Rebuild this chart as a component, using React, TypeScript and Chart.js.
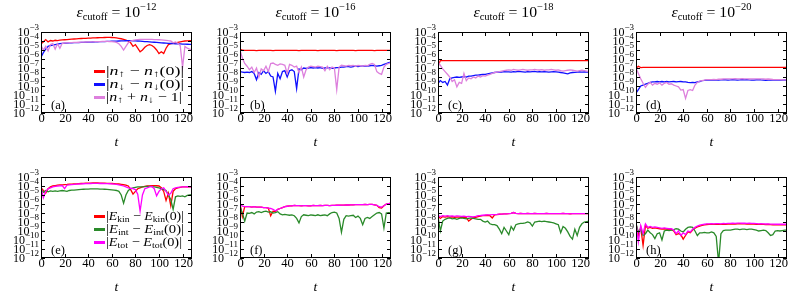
import React, { useEffect, useRef } from 'react';
import { Chart, registerables } from 'chart.js';
Chart.register(...registerables);

// time grid (t)
const T = [0, 2, 4, 6, 8, 10, 12, 14, 16, 18, 20, 22, 24, 26, 28, 30, 32, 34, 36, 38, 40, 42, 44, 46, 48, 50, 52, 54, 56, 58, 60, 62, 64, 66, 68, 70, 72, 74, 76, 78, 80, 82, 84, 86, 88, 90, 92, 94, 96, 98, 100, 102, 104, 106, 108, 110, 112, 114, 116, 118, 120, 122, 124, 126, 128];
const X_TICKS = [0, 20, 40, 60, 80, 100, 120];
const Y_EXPONENTS = [-3, -4, -5, -6, -7, -8, -9, -10, -11, -12];
const CUTOFF_EXPONENTS = ['−12', '−16', '−18', '−20'];
const PANEL_LABELS = ['(a)', '(b)', '(c)', '(d)', '(e)', '(f)', '(g)', '(h)'];

// values stored as log10 of the plotted quantity
// (a) eps=1e-12
const aUp = [-4.3, -4.1, -3.85, -4.1, -3.95, -4.0, -3.92, -3.95, -3.9, -3.88,
  -3.86, -3.84, -3.82, -3.8, -3.78, -3.76, -3.74, -3.72, -3.71, -3.7,
  -3.68, -3.67, -3.66, -3.65, -3.64, -3.63, -3.62, -3.61, -3.6, -3.6,
  -3.61, -3.63, -3.66, -3.7, -3.75, -3.82, -3.9, -4.0, -4.2, -4.6,
  -4.4, -4.8, -5.2, -5.0, -4.7, -4.5, -4.4, -4.5, -4.7, -5.0,
  -5.4, -5.2, -5.4, -4.8, -4.4, -4.3, -4.25, -4.2, -4.15, -4.1,
  -4.05, -4.0, -3.98, -3.97, -3.96];
const aDn = [-5.8, -5.3, -4.9, -4.6, -4.5, -4.45, -4.4, -4.35, -4.3, -4.27,
  -4.25, -4.23, -4.21, -4.2, -4.19, -4.18, -4.17, -4.16, -4.15, -4.14,
  -4.13, -4.12, -4.11, -4.1, -4.09, -4.08, -4.07, -4.06, -4.05, -4.04,
  -4.03, -4.02, -4.01, -4.0, -3.99, -3.98, -3.97, -3.96, -3.96, -3.97,
  -3.98, -4.0, -4.02, -4.04, -4.06, -4.08, -4.1, -4.12, -4.14, -4.16,
  -4.18, -4.2, -4.22, -4.24, -4.26, -4.28, -4.3, -4.31, -4.32, -4.33,
  -4.34, -4.35, -4.36, -4.37, -4.38];
const aSum = [-4.5, -5.0, -4.6, -5.1, -4.4, -4.3, -4.9, -4.3, -4.8, -4.25,
  -4.22, -4.2, -4.18, -4.17, -4.16, -4.15, -4.14, -4.13, -4.12, -4.11,
  -4.1, -4.1, -4.09, -4.08, -4.07, -4.06, -4.05, -4.05, -4.05, -4.06,
  -4.08, -4.1, -4.15, -4.3, -4.6, -5.0, -4.6, -4.2, -4.0, -3.92,
  -3.88, -3.85, -3.83, -3.82, -3.82, -3.82, -3.82, -3.83, -3.84, -3.85,
  -3.86, -3.88, -3.9, -3.93, -3.97, -4.0, -4.2, -4.1, -4.25, -4.5,
  -6.9, -4.6, -4.8, -4.9, -4.95];
// (b) eps=1e-16
const bUp = [-4.9, -5.03, -5.05, -5.05, -5.04, -5.05, -5.05, -5.06, -5.05, -5.05,
  -5.05, -5.04, -5.05, -5.05, -5.06, -5.05, -5.05, -5.04, -5.05, -5.05,
  -5.05, -5.05, -5.04, -5.05, -5.05, -5.06, -5.05, -5.05, -5.05, -5.04,
  -5.05, -5.05, -5.05, -5.06, -5.05, -5.05, -5.04, -5.05, -5.05, -5.05,
  -5.05, -5.06, -5.05, -5.05, -5.04, -5.05, -5.05, -5.05, -5.05, -5.06,
  -5.05, -5.05, -5.04, -5.05, -5.05, -5.05, -5.05, -5.06, -5.05, -5.05,
  -5.04, -5.05, -5.05, -5.05, -5.05];
const bDn = [-7.4, -7.45, -7.5, -7.45, -7.5, -7.4, -7.6, -8.3, -7.5, -7.7,
  -7.3, -7.6, -7.4, -7.9, -8.0, -9.6, -7.6, -8.2, -7.4, -7.3,
  -8.0, -7.3, -7.2, -7.4, -9.3, -7.1, -7.2, -7.0, -7.05, -7.0,
  -6.95, -7.0, -6.95, -7.0, -6.95, -7.05, -7.0, -6.95, -7.0, -7.05,
  -7.0, -6.95, -6.95, -6.9, -6.9, -6.85, -6.85, -6.9, -6.85, -6.8,
  -6.85, -6.8, -6.8, -6.75, -6.8, -6.75, -6.7, -6.75, -6.8, -6.75,
  -6.7, -6.6, -6.5, -6.4, -6.35];
const bSum = [-5.0, -5.9, -6.5, -6.8, -7.2, -6.9, -7.5, -7.0, -8.0, -7.1,
  -7.3, -6.8, -7.4, -6.5, -6.45, -6.6, -6.7, -6.55, -6.6, -6.7,
  -7.6, -6.6, -6.7, -6.9, -6.8, -7.5, -6.9, -8.0, -7.2, -6.9,
  -6.8, -6.85, -6.9, -6.8, -6.85, -6.9, -7.3, -6.8, -7.2, -6.9,
  -7.0, -9.4, -6.9, -6.7, -6.75, -6.8, -6.7, -6.75, -6.7, -6.8,
  -6.7, -6.75, -6.8, -6.7, -6.75, -6.6, -6.5, -6.6, -7.4, -7.6,
  -7.7, -6.9, -6.6, -6.5, -6.4];
// (c) eps=1e-18
const cUp = [-6.85, -6.15, -6.17, -6.18, -6.18, -6.19, -6.18, -6.18, -6.17, -6.18,
  -6.18, -6.19, -6.18, -6.18, -6.18, -6.17, -6.18, -6.18, -6.19, -6.18,
  -6.18, -6.18, -6.17, -6.18, -6.18, -6.18, -6.19, -6.18, -6.18, -6.18,
  -6.17, -6.18, -6.18, -6.18, -6.19, -6.18, -6.18, -6.18, -6.17, -6.18,
  -6.18, -6.18, -6.19, -6.18, -6.18, -6.18, -6.17, -6.18, -6.18, -6.18,
  -6.19, -6.18, -6.18, -6.18, -6.17, -6.18, -6.18, -6.18, -6.19, -6.18,
  -6.18, -6.18, -6.17, -6.18, -6.18];
const cDn = [-8.7, -8.4, -8.6, -8.5, -8.9, -8.2, -8.1, -8.05, -8.0, -8.05,
  -8.0, -7.95, -8.0, -7.9, -7.9, -7.85, -7.8, -7.8, -7.75, -7.7,
  -7.7, -7.65, -7.6, -7.55, -7.5, -7.45, -7.42, -7.45, -7.4, -7.43,
  -7.42, -7.45, -7.4, -7.42, -7.38, -7.4, -7.42, -7.45, -7.4, -7.42,
  -7.4, -7.38, -7.42, -7.4, -7.43, -7.4, -7.42, -7.45, -7.42, -7.4,
  -7.42, -7.45, -7.5, -7.55, -7.6, -7.65, -7.55, -7.5, -7.48, -7.45,
  -7.43, -7.45, -7.42, -7.45, -7.45];
const cSum = [-6.3, -6.7, -7.1, -7.4, -7.7, -8.0, -8.5, -8.3, -9.1, -8.6,
  -8.7, -7.6, -8.4, -8.1, -8.2, -8.0, -8.1, -7.9, -8.0, -7.85,
  -7.9, -7.8, -7.7, -7.6, -7.5, -7.45, -7.4, -7.35, -7.3, -7.25,
  -7.2, -7.25, -7.15, -7.2, -7.25, -7.2, -7.15, -7.2, -7.25, -7.2,
  -7.2, -7.15, -7.2, -7.22, -7.18, -7.25, -7.2, -7.2, -7.15, -7.2,
  -7.25, -7.2, -7.3, -7.35, -7.3, -7.25, -7.2, -7.25, -7.3, -7.35,
  -7.3, -7.25, -7.3, -7.35, -7.4];
// (d) eps=1e-20
const dUp = [-7.04, -6.8, -6.95, -6.93, -6.93, -6.94, -6.93, -6.93, -6.92, -6.93,
  -6.93, -6.93, -6.94, -6.93, -6.93, -6.93, -6.92, -6.93, -6.93, -6.93,
  -6.94, -6.93, -6.93, -6.93, -6.92, -6.93, -6.93, -6.93, -6.94, -6.93,
  -6.93, -6.93, -6.92, -6.93, -6.93, -6.93, -6.94, -6.93, -6.93, -6.93,
  -6.92, -6.93, -6.93, -6.93, -6.94, -6.93, -6.93, -6.93, -6.92, -6.93,
  -6.93, -6.93, -6.94, -6.93, -6.93, -6.93, -6.92, -6.93, -6.93, -6.93,
  -6.94, -6.93, -6.93, -6.93, -6.93];
const dDn = [-9.8, -9.4, -9.0, -8.9, -8.8, -8.7, -8.6, -8.55, -8.55, -8.5,
  -8.55, -8.5, -8.55, -8.5, -8.55, -8.52, -8.5, -8.55, -8.52, -8.5,
  -8.55, -8.55, -8.6, -8.62, -8.6, -8.63, -8.55, -8.5, -8.4, -8.38,
  -8.35, -8.35, -8.33, -8.35, -8.32, -8.35, -8.33, -8.3, -8.32, -8.35,
  -8.33, -8.3, -8.32, -8.35, -8.33, -8.3, -8.32, -8.3, -8.33, -8.35,
  -8.35, -8.32, -8.3, -8.33, -8.35, -8.38, -8.35, -8.33, -8.35, -8.35,
  -8.33, -8.35, -8.35, -8.33, -8.35];
const dSum = [-7.0, -7.6, -8.2, -8.7, -9.15, -8.8, -8.6, -8.9, -8.7, -8.8,
  -8.65, -8.9, -8.7, -8.6, -8.8, -8.75, -8.9, -9.0, -9.1, -9.45,
  -9.4, -10.37, -9.5, -9.4, -9.5, -8.9, -8.6, -8.45, -8.4, -8.35,
  -8.3, -8.3, -8.3, -8.28, -8.3, -8.25, -8.25, -8.22, -8.2, -8.2,
  -8.2, -8.2, -8.18, -8.2, -8.2, -8.18, -8.2, -8.2, -8.22, -8.2,
  -8.2, -8.2, -8.22, -8.2, -8.2, -8.25, -8.22, -8.25, -8.28, -8.3,
  -8.3, -8.3, -8.32, -8.33, -8.33];
// (e) eps=1e-12
const eKin = [-4.2, -4.5, -4.8, -4.3, -4.1, -4.0, -3.95, -3.9, -3.88, -3.87,
  -3.85, -3.83, -3.8, -3.8, -3.78, -3.76, -3.74, -3.72, -3.7, -3.69,
  -3.68, -3.67, -3.66, -3.66, -3.66, -3.67, -3.68, -3.69, -3.7, -3.71,
  -3.72, -3.74, -3.76, -3.78, -3.82, -3.86, -3.9, -4.0, -4.4, -4.9,
  -4.6, -4.3, -4.2, -4.1, -4.05, -4.0, -3.98, -3.95, -3.95, -3.97,
  -4.0, -4.2, -4.6, -5.6, -4.8, -6.2, -4.6, -4.3, -4.2, -4.15,
  -4.1, -4.1, -4.08, -4.1, -4.1];
const eInt = [-4.4, -4.7, -4.5, -4.65, -4.55, -4.6, -4.55, -4.6, -4.55, -4.5,
  -4.55, -4.6, -4.5, -4.45, -4.45, -4.42, -4.4, -4.38, -4.36, -4.35,
  -4.34, -4.33, -4.32, -4.32, -4.33, -4.34, -4.35, -4.36, -4.38, -4.4,
  -4.42, -4.45, -4.5, -4.6, -5.0, -5.9, -5.0, -4.5, -4.3, -4.2,
  -4.15, -4.1, -4.1, -4.1, -4.08, -4.05, -4.05, -4.08, -4.1, -4.15,
  -4.2, -4.3, -4.4, -4.5, -5.0, -5.5, -6.6, -5.2, -5.1, -5.15,
  -5.1, -5.2, -5.05, -5.0, -4.95];
const eTot = [-4.2, -5.3, -4.6, -4.3, -4.2, -4.1, -4.05, -4.0, -3.98, -3.95,
  -4.3, -3.9, -3.88, -3.85, -3.83, -3.8, -3.78, -3.76, -3.75, -3.74,
  -3.73, -3.72, -3.71, -3.71, -3.71, -3.72, -3.72, -3.73, -3.74, -3.75,
  -3.77, -3.8, -3.83, -3.87, -3.92, -4.0, -4.1, -4.2, -4.25, -4.3,
  -4.4, -4.9, -6.8, -5.0, -4.3, -4.2, -4.1, -4.05, -4.3, -5.1,
  -4.6, -4.3, -4.2, -4.6, -5.0, -4.8, -4.3, -4.2, -4.15, -4.12,
  -4.1, -4.1, -4.08, -4.1, -4.1];
// (f) eps=1e-16
const fKin = [-5.95, -7.4, -6.3, -6.3, -6.3, -6.35, -6.3, -6.35, -6.35, -6.35,
  -6.4, -6.4, -6.45, -7.3, -6.8, -6.85, -6.6, -6.5, -6.4, -6.3,
  -6.25, -6.2, -6.2, -6.15, -6.17, -6.18, -6.2, -6.18, -6.17, -6.2,
  -6.2, -6.15, -6.17, -6.18, -6.15, -6.17, -6.16, -6.15, -6.17, -6.15,
  -6.15, -6.13, -6.14, -6.12, -6.12, -6.1, -6.11, -6.1, -6.09, -6.08,
  -6.07, -6.06, -6.06, -6.05, -6.06, -6.05, -6.05, -6.1, -6.15, -6.4,
  -6.45, -6.2, -6.0, -5.95, -5.9];
const fInt = [-6.3, -7.0, -7.9, -7.0, -7.05, -6.95, -7.1, -6.9, -6.85, -6.95,
  -6.85, -6.8, -6.9, -6.85, -7.0, -6.95, -6.85, -7.1, -7.2, -7.15,
  -7.2, -7.25, -7.2, -7.3, -7.6, -8.1, -7.4, -7.2, -7.25, -7.3,
  -7.2, -7.25, -7.3, -7.2, -7.3, -7.25, -7.2, -7.3, -7.1, -6.95,
  -6.9, -7.0, -7.6, -9.15, -7.7, -7.3, -7.35, -7.3, -7.25, -7.5,
  -7.35, -7.6, -8.3, -7.6, -7.5, -7.6, -7.4, -7.2, -7.0, -6.95,
  -7.1, -8.67, -7.0, -6.95, -7.0];
const fTot = [-5.95, -6.25, -6.3, -6.3, -6.3, -6.35, -6.3, -6.35, -6.35, -6.35,
  -6.4, -6.4, -6.45, -6.5, -6.6, -6.75, -6.6, -6.5, -6.4, -6.3,
  -6.25, -6.2, -6.2, -6.15, -6.17, -6.18, -6.2, -6.18, -6.17, -6.2,
  -6.2, -6.15, -6.17, -6.18, -6.15, -6.17, -6.16, -6.15, -6.17, -6.15,
  -6.15, -6.13, -6.14, -6.12, -6.12, -6.1, -6.11, -6.1, -6.09, -6.08,
  -6.07, -6.06, -6.06, -6.05, -6.06, -6.05, -6.05, -6.1, -6.15, -6.3,
  -6.35, -6.2, -6.0, -5.95, -5.9];
// (g) eps=1e-18
const gKin = [-7.35, -7.6, -7.4, -7.45, -7.4, -7.45, -7.42, -7.48, -7.45, -7.45,
  -7.5, -7.45, -7.5, -7.9, -7.7, -7.5, -7.48, -7.4, -7.35, -7.3,
  -7.28, -7.25, -7.3, -7.55, -7.2, -7.17, -7.14, -7.12, -7.1, -7.1,
  -7.08, -7.05, -6.95, -7.05, -7.07, -7.05, -7.08, -7.07, -7.05, -7.07,
  -7.07, -7.05, -7.07, -7.08, -7.06, -7.07, -7.05, -7.08, -7.07, -7.06,
  -7.07, -7.08, -7.06, -7.05, -7.07, -7.08, -7.1, -7.08, -7.07, -7.06,
  -7.07, -7.08, -7.06, -7.07, -7.07];
const gInt = [-7.4, -9.0, -7.9, -7.7, -7.6, -7.55, -7.65, -7.6, -7.7, -7.6,
  -7.55, -7.6, -7.65, -7.6, -7.55, -7.6, -7.65, -7.7, -7.7, -7.9,
  -8.0, -7.9, -8.2, -8.3, -8.3, -8.4, -8.8, -9.3, -8.6, -9.0,
  -9.4, -8.5, -8.9, -8.3, -8.2, -8.15, -8.15, -8.1, -8.0, -8.1,
  -8.45, -8.0, -7.95, -7.9, -7.95, -7.9, -7.95, -8.0, -8.05, -8.1,
  -8.2, -8.3, -9.2, -8.5, -8.7, -9.1, -9.6, -9.9, -8.8, -9.5,
  -8.6, -8.2, -8.0, -7.95, -7.9];
const gTot = [-7.3, -7.4, -7.3, -7.35, -7.3, -7.35, -7.32, -7.38, -7.33, -7.35,
  -7.38, -7.35, -7.4, -7.38, -7.4, -7.42, -7.38, -7.3, -7.28, -7.25,
  -7.22, -7.2, -7.2, -7.18, -7.17, -7.15, -7.12, -7.12, -7.1, -7.1,
  -7.08, -7.05, -6.95, -7.05, -7.07, -7.05, -7.08, -7.07, -7.05, -7.07,
  -7.07, -7.05, -7.07, -7.08, -7.06, -7.07, -7.05, -7.08, -7.07, -7.06,
  -7.07, -7.08, -7.06, -7.05, -7.07, -7.08, -7.1, -7.08, -7.07, -7.06,
  -7.07, -7.08, -7.06, -7.07, -7.07];
// (h) eps=1e-20
const hKin = [-8.2, -9.5, -8.6, -10.6, -8.4, -8.7, -8.6, -8.7, -8.65, -8.7,
  -8.75, -8.8, -8.75, -8.8, -8.85, -8.85, -9.0, -9.4, -9.3, -9.4,
  -9.9, -9.5, -9.1, -9.2, -8.9, -8.7, -8.55, -8.45, -8.38, -8.32,
  -8.28, -8.27, -8.25, -8.27, -8.25, -8.26, -8.27, -8.24, -8.25, -8.23,
  -8.22, -8.21, -8.22, -8.2, -8.19, -8.21, -8.2, -8.22, -8.21, -8.22,
  -8.23, -8.25, -8.27, -8.26, -8.27, -8.29, -8.27, -8.3, -8.31, -8.32,
  -8.31, -8.32, -8.3, -8.32, -8.32];
const hInt = [-8.2, -9.1, -8.8, -9.5, -9.3, -8.9, -9.2, -9.4, -9.85, -9.3,
  -9.2, -10.0, -9.0, -8.9, -8.95, -8.9, -8.85, -8.75, -8.8, -9.0,
  -9.1, -8.8, -8.6, -8.55, -8.6, -9.0, -9.5, -9.2, -9.2, -9.15,
  -9.2, -9.2, -9.1, -9.2, -9.6, -12.5, -9.3, -8.95, -8.9, -8.9,
  -8.9, -8.85, -8.8, -8.8, -8.85, -8.8, -8.8, -8.85, -8.8, -8.8,
  -8.85, -8.9, -9.0, -8.95, -8.9, -8.95, -9.2, -9.5, -9.4, -9.0,
  -8.95, -9.0, -8.95, -8.9, -8.9];
const hTot = [-8.0, -10.2, -8.4, -9.3, -8.2, -8.6, -8.5, -8.6, -8.55, -8.6,
  -8.65, -8.7, -8.65, -8.7, -8.75, -8.75, -8.9, -9.3, -9.0, -9.5,
  -9.2, -9.4, -9.0, -9.1, -8.8, -8.6, -8.45, -8.35, -8.3, -8.25,
  -8.2, -8.2, -8.18, -8.2, -8.17, -8.18, -8.2, -8.16, -8.17, -8.15,
  -8.15, -8.14, -8.15, -8.13, -8.12, -8.14, -8.13, -8.15, -8.14, -8.15,
  -8.16, -8.18, -8.2, -8.19, -8.2, -8.22, -8.2, -8.23, -8.24, -8.25,
  -8.24, -8.25, -8.23, -8.25, -8.25];

const SERIES = [
  [aUp, aDn, aSum], [bUp, bDn, bSum], [cUp, cDn, cSum], [dUp, dDn, dSum],
  [eKin, eInt, eTot], [fKin, fInt, fTot], [gKin, gInt, gTot], [hKin, hInt, hTot],
];

const TOP_COLORS = ['#ff0000', '#1010ff', '#dd80dd'];
const BOTTOM_COLORS = ['#ff0000', '#2a8a2a', '#ff00ff'];

const FONT = '"Liberation Serif", "DejaVu Serif", serif';
type Seg = { t: string; size: number; it?: boolean; dy?: number };

const TOP_LEGEND: Seg[][] = [
  [{ t: '|', size: 13 }, { t: 'n', size: 13, it: true }, { t: '↑', size: 9.5, dy: 3 }, { t: ' − ', size: 13 }, { t: 'n', size: 13, it: true }, { t: '↑', size: 9.5, dy: 3 }, { t: '(0)|', size: 13 }],
  [{ t: '|', size: 13 }, { t: 'n', size: 13, it: true }, { t: '↓', size: 9.5, dy: 3 }, { t: ' − ', size: 13 }, { t: 'n', size: 13, it: true }, { t: '↓', size: 9.5, dy: 3 }, { t: '(0)|', size: 13 }],
  [{ t: '|', size: 13 }, { t: 'n', size: 13, it: true }, { t: '↑', size: 9.5, dy: 3 }, { t: ' + ', size: 13 }, { t: 'n', size: 13, it: true }, { t: '↓', size: 9.5, dy: 3 }, { t: ' − 1|', size: 13 }],
];
const BOTTOM_LEGEND: Seg[][] = [
  [{ t: '|', size: 13 }, { t: 'E', size: 13, it: true }, { t: 'kin', size: 9, dy: 3 }, { t: ' − ', size: 13 }, { t: 'E', size: 13, it: true }, { t: 'kin', size: 9, dy: 3 }, { t: '(0)|', size: 13 }],
  [{ t: '|', size: 13 }, { t: 'E', size: 13, it: true }, { t: 'int', size: 9, dy: 3 }, { t: ' − ', size: 13 }, { t: 'E', size: 13, it: true }, { t: 'int', size: 9, dy: 3 }, { t: '(0)|', size: 13 }],
  [{ t: '|', size: 13 }, { t: 'E', size: 13, it: true }, { t: 'tot', size: 9, dy: 3 }, { t: ' − ', size: 13 }, { t: 'E', size: 13, it: true }, { t: 'tot', size: 9, dy: 3 }, { t: '(0)|', size: 13 }],
];
const LEGEND_TEXT_W = [78, 78, 76];

const CANVAS_W = 196;
const CANVAS_H = 150;
const COL_LEFT = [0, 199, 397, 595];
const ROW_TOP = [0, 145];
const PAD = { left: 41, right: 4, top: 32, bottom: 37 };

function setFont(ctx: CanvasRenderingContext2D, s: Seg) {
  ctx.font = `${s.it ? 'italic ' : ''}${s.size}px ${FONT}`;
}
function richWidth(ctx: CanvasRenderingContext2D, segs: Seg[]) {
  let w = 0;
  for (const s of segs) { setFont(ctx, s); w += ctx.measureText(s.t).width; }
  return w;
}
function drawRich(ctx: CanvasRenderingContext2D, segs: Seg[], x: number, y: number, align: 'left' | 'right' | 'center', targetW?: number) {
  const natural = richWidth(ctx, segs);
  const sx = targetW ? targetW / natural : 1;
  const w = natural * sx;
  const x0 = align === 'left' ? x : align === 'right' ? x - w : x - w / 2;
  ctx.save();
  ctx.translate(x0, y);
  ctx.scale(sx, 1);
  ctx.textAlign = 'left';
  ctx.textBaseline = 'middle';
  let cx = 0;
  for (const s of segs) {
    setFont(ctx, s);
    ctx.fillText(s.t, cx, s.dy || 0);
    cx += ctx.measureText(s.t).width;
  }
  ctx.restore();
}

function makeDecor(idx: number) {
  const row = Math.floor(idx / 4);
  const col = idx % 4;
  return {
    id: 'decor' + idx,
    afterDraw(chart: any) {
      const ctx: CanvasRenderingContext2D = chart.ctx;
      const a = chart.chartArea;
      const xs = chart.scales.x;
      const ys = chart.scales.y;
      ctx.save();
      ctx.fillStyle = '#000';
      ctx.strokeStyle = '#000';
      ctx.lineWidth = 1;
      // frame
      ctx.strokeRect(a.left + 0.5, a.top + 0.5, a.right - a.left - 1, a.bottom - a.top - 1);
      // y ticks + labels
      for (const e of Y_EXPONENTS) {
        const py = Math.round(ys.getPixelForValue(Math.pow(10, e))) + 0.5;
        ctx.beginPath();
        ctx.moveTo(a.left, py); ctx.lineTo(a.left + 4, py);
        ctx.moveTo(a.right, py); ctx.lineTo(a.right - 4, py);
        ctx.stroke();
        drawRich(ctx, [{ t: '10', size: 12 }, { t: '−' + String(-e), size: 9, dy: -4.5 }], a.left - 2, py, 'right');
      }
      // x ticks + labels
      for (const v of X_TICKS) {
        const px = Math.round(xs.getPixelForValue(v)) + 0.5;
        ctx.beginPath();
        ctx.moveTo(px, a.bottom); ctx.lineTo(px, a.bottom - 4);
        ctx.moveTo(px, a.top); ctx.lineTo(px, a.top + 4);
        ctx.stroke();
        drawRich(ctx, [{ t: String(v), size: 12.5 }], px, a.bottom + 6, 'center');
      }
      const cxm = (a.left + a.right) / 2;
      drawRich(ctx, [{ t: 't', size: 13.5, it: true }], cxm, a.bottom + 29, 'center');
      // panel label
      drawRich(ctx, [{ t: PANEL_LABELS[idx], size: 12.5 }], a.left + 10, a.bottom - 7, 'left');
      // title
      if (row === 0) {
        drawRich(ctx, [
          { t: 'ε', size: 15, it: true },
          { t: 'cutoff', size: 10, dy: 4 },
          { t: ' = 10', size: 15 },
          { t: CUTOFF_EXPONENTS[col], size: 10, dy: -6 },
        ], cxm, a.top - 19, 'center', 80);
      }
      // legend
      if (col === 0) {
        const items = row === 0 ? TOP_LEGEND : BOTTOM_LEGEND;
        const colors = row === 0 ? TOP_COLORS : BOTTOM_COLORS;
        const offs = [39.5, 52.5, 65.5];
        items.forEach((segs, k) => {
          const y = a.top + offs[k];
          ctx.strokeStyle = colors[k];
          ctx.lineWidth = 3;
          ctx.beginPath();
          ctx.moveTo(a.left + 53, y); ctx.lineTo(a.left + 64, y);
          ctx.stroke();
          ctx.fillStyle = '#000';
          drawRich(ctx, segs, a.left + 65, y, 'left', LEGEND_TEXT_W[k]);
        });
      }
      ctx.restore();
    },
  };
}

function Panel({ idx }: { idx: number }) {
  const ref = useRef<HTMLCanvasElement>(null);
  useEffect(() => {
    const row = Math.floor(idx / 4);
    const colors = row === 0 ? TOP_COLORS : BOTTOM_COLORS;
    const datasets = SERIES[idx].map((s, k) => ({
      data: T.map((t, i) => ({ x: t, y: Math.pow(10, s[i]) })),
      borderColor: colors[k],
      borderWidth: 1.3,
      pointRadius: 0,
      tension: 0,
      fill: false,
    })).reverse();
    const chart = new Chart(ref.current as HTMLCanvasElement, {
      type: 'line',
      data: { datasets },
      options: {
        responsive: false,
        animation: false,
        events: [],
        layout: { padding: PAD },
        scales: {
          x: { type: 'linear', min: 0, max: 128, display: false },
          y: { type: 'logarithmic', min: 1e-12, max: 1e-3, display: false },
        },
        plugins: { legend: { display: false }, tooltip: { enabled: false }, title: { display: false } },
      } as any,
      plugins: [makeDecor(idx)],
    });
    return () => chart.destroy();
  }, [idx]);
  const row = Math.floor(idx / 4);
  const col = idx % 4;
  return (
    <canvas
      ref={ref}
      width={CANVAS_W}
      height={CANVAS_H}
      style={{ position: 'absolute', left: COL_LEFT[col], top: ROW_TOP[row], width: CANVAS_W, height: CANVAS_H }}
    />
  );
}

export default function App() {
  return (
    <div style={{ position: 'fixed', left: 0, top: 0, width: 793, height: 297, background: '#fff', overflow: 'hidden' }}>
      {[0, 1, 2, 3, 4, 5, 6, 7].map((i) => <Panel key={i} idx={i} />)}
    </div>
  );
}
